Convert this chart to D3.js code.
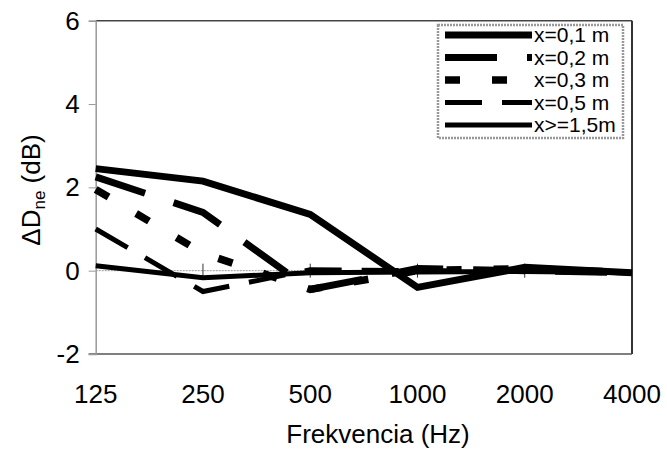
<!DOCTYPE html>
<html>
<head>
<meta charset="utf-8">
<script src="https://cdn.jsdelivr.net/npm/d3@7"></script>
<style>
  body { margin: 0; background: #fff; }
  text { font-family: Arial, "Liberation Sans", sans-serif; fill: #000; }
</style>
</head>
<body>
<div class="graf"></div>
<script>
"use strict";

// donnees
var frekvencie = ["125", "250", "500", "1000", "2000", "4000"];
var x01 = [2.45, 2.15, 1.35, -0.4, 0.08, -0.05];
var x02 = [2.25, 1.4, -0.45, 0.05, 0.0, -0.05];
var x03 = [1.95, 0.42, -0.45, 0.0, 0.05, -0.05];
var x05 = [1.0, -0.5, 0.02, 0.0, 0.0, -0.05];
var x15 = [0.12, -0.17, -0.05, -0.03, -0.02, -0.05];
var legenda = ["x=0,1 m", "x=0,2 m", "x=0,3 m", "x=0,5 m", "x>=1,5m"];
var yTicks = [-2, 0, 2, 4, 6];

var larg = 667;  // largeur
var haut = 451;  // hauteur
var gauche = 95.7, droite = 632, haute = 20.7, bas = 354;

// style de chaque courbe (epaisseur, pointilles)
var styly = [
  { w: 7, dash: null },
  { w: 7, dash: "52,30" },
  { w: 7.5, dash: "15,32" },
  { w: 5, dash: "37,20" },
  { w: 5, dash: null }
];

var serie = [x01, x02, x03, x05, x15];

var svg = d3.select(".graf")
  .append("svg")
  .attr("width", larg)
  .attr("height", haut);

svg.append("rect")
  .attr("width", larg).attr("height", haut)
  .attr("fill", "#fff");

var x = d3.scalePoint()
  .domain(frekvencie)
  .range([gauche, droite])
  .padding(0);

var y = d3.scaleLinear()
  .domain([-2, 6])
  .range([bas, haute]);

// cadre du trace
svg.append("line")
  .attr("x1", gauche).attr("x2", droite)
  .attr("y1", haute).attr("y2", haute)
  .attr("stroke", "#444").attr("stroke-width", 1.5);
svg.append("line")
  .attr("x1", droite).attr("x2", droite)
  .attr("y1", haute).attr("y2", bas)
  .attr("stroke", "#333").attr("stroke-width", 2);
svg.append("line")
  .attr("x1", gauche - 7).attr("x2", droite)
  .attr("y1", bas).attr("y2", bas)
  .attr("stroke", "#555").attr("stroke-width", 1.5);

// axe y (gris)
var axeY = svg.append("g")
  .attr("transform", "translate(" + gauche + ",0)")
  .call(d3.axisLeft(y).tickValues(yTicks).tickSize(7).tickPadding(9)
    .tickFormat(function(d) { return String(d); }));
axeY.select(".domain").attr("stroke", "#999").attr("stroke-width", 1.5);
axeY.selectAll(".tick line").attr("stroke", "#999").attr("stroke-width", 1);
axeY.selectAll(".tick text")
  .attr("font-size", "26px")
  .attr("fill", "#000")
  .attr("font-family", "Arial, 'Liberation Sans', sans-serif");

// ligne du zero, pointillee, avec graduations croisees
svg.append("line")
  .attr("x1", gauche).attr("x2", droite)
  .attr("y1", y(0)).attr("y2", y(0))
  .attr("stroke", "#999").attr("stroke-width", 1)
  .attr("stroke-dasharray", "2,1");
svg.selectAll("line.graduation")
  .data(frekvencie.slice(1, frekvencie.length - 1))
  .enter()
  .append("line")
  .attr("class", "graduation")
  .attr("x1", function(d) { return x(d); })
  .attr("x2", function(d) { return x(d); })
  .attr("y1", y(0) - 7)
  .attr("y2", y(0) + 7)
  .attr("stroke", "#333").attr("stroke-width", 1);

// etiquettes des frequences
svg.selectAll("text.frek")
  .data(frekvencie)
  .enter()
  .append("text")
  .attr("class", "frek")
  .attr("x", function(d) { return x(d); })
  .attr("y", 403)
  .attr("text-anchor", "middle")
  .attr("font-size", "26px")
  .text(function(d) { return d; });

// titres des axes
svg.append("text")
  .attr("x", 378)
  .attr("y", 443)
  .attr("text-anchor", "middle")
  .attr("font-size", "26px")
  .text("Frekvencia (Hz)");

var titreY = svg.append("text")
  .attr("transform", "translate(40,190) rotate(-90)")
  .attr("text-anchor", "middle")
  .attr("font-size", "26px");
titreY.append("tspan").text("ΔD");
titreY.append("tspan").attr("font-size", "17px").attr("dy", 5).text("ne");
titreY.append("tspan").attr("dy", -5).text(" (dB)");

// courbes
var ligne = d3.line()
  .x(function(d, i) { return x(frekvencie[i]); })
  .y(function(d) { return y(d); });

svg.selectAll("path.serie")
  .data(serie)
  .enter()
  .append("path")
  .attr("class", "serie")
  .attr("d", function(d) { return ligne(d); })
  .attr("fill", "none")
  .attr("stroke", "#000")
  .attr("stroke-linejoin", "miter")
  .attr("stroke-linecap", "butt")
  .attr("stroke-width", function(d, i) { return styly[i].w; })
  .attr("stroke-dasharray", function(d, i) { return styly[i].dash; });

// legende
var leg = svg.append("g").attr("class", "legende");
leg.append("rect")
  .attr("x", 438).attr("y", 25)
  .attr("width", 185).attr("height", 113)
  .attr("fill", "#fff")
  .attr("stroke", "#999")
  .attr("stroke-width", 2.5)
  .attr("stroke-dasharray", "2,1");

leg.selectAll("line.echantillon")
  .data(legenda)
  .enter()
  .append("line")
  .attr("class", "echantillon")
  .attr("x1", 445).attr("x2", 532)
  .attr("y1", function(d, i) { return 35 + i * 22.5; })
  .attr("y2", function(d, i) { return 35 + i * 22.5; })
  .attr("stroke", "#000")
  .attr("stroke-width", function(d, i) { return styly[i].w; })
  .attr("stroke-dasharray", function(d, i) { return styly[i].dash; });

leg.selectAll("text.nom")
  .data(legenda)
  .enter()
  .append("text")
  .attr("class", "nom")
  .attr("x", 534)
  .attr("y", function(d, i) { return 42 + i * 22.5; })
  .attr("font-size", "21px")
  .text(function(d) { return d; });
</script>
</body>
</html>
